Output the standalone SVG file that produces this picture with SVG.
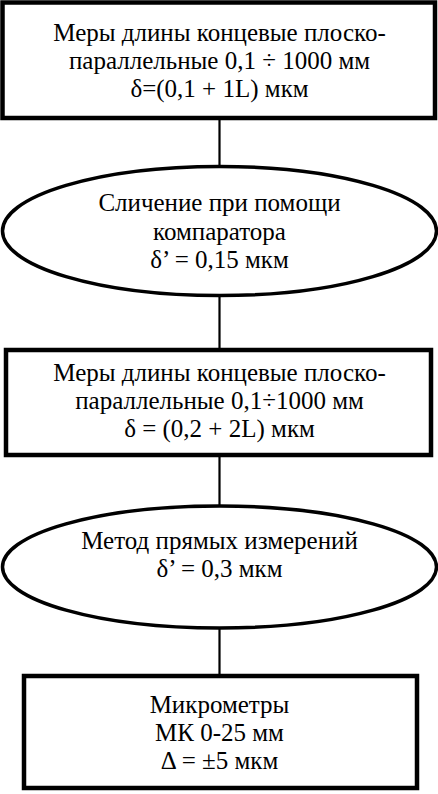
<svg xmlns="http://www.w3.org/2000/svg" width="438" height="794" viewBox="0 0 438 794">
<style>
.box{fill:#fff;stroke:#000;stroke-width:4.5}
.ell{fill:#fff;stroke:#000;stroke-width:3.5}
.con{stroke:#000;stroke-width:2.2;fill:none}
.t{font-family:'Liberation Serif','Times New Roman',serif;font-size:25px;fill:#000;text-anchor:middle}
</style>
<rect width="438" height="794" fill="#fff"/>
<g id="connectors">
<line class="con" x1="219.5" y1="118" x2="219.5" y2="167"/>
<line class="con" x1="219.5" y1="295" x2="219.5" y2="350"/>
<line class="con" x1="219.5" y1="455" x2="219.5" y2="506"/>
<line class="con" x1="219.5" y1="628" x2="219.5" y2="676"/>
</g>
<g id="node1">
<rect class="box" x="2.5" y="2.5" width="432.5" height="115.5"/>
<text class="t" x="219.5" y="41">Меры длины концевые плоско-</text>
<text class="t" x="219.5" y="69">параллельные 0,1 ÷ 1000 мм</text>
<text class="t" x="219.5" y="97">δ=(0,1 + 1L) мкм</text>
</g>
<g id="node2">
<ellipse class="ell" cx="219.5" cy="231" rx="217" ry="64.5"/>
<text class="t" x="219.5" y="211">Сличение при помощи</text>
<text class="t" x="219.5" y="239.5">компаратора</text>
<text class="t" x="219.5" y="267.5">δ’ = 0,15 мкм</text>
</g>
<g id="node3">
<rect class="box" x="6" y="350" width="425" height="105"/>
<text class="t" x="219.5" y="381">Меры длины концевые плоско-</text>
<text class="t" x="219.5" y="409">параллельные 0,1÷1000 мм</text>
<text class="t" x="219.5" y="437">δ = (0,2 + 2L) мкм</text>
</g>
<g id="node4">
<ellipse class="ell" cx="219.5" cy="567" rx="217" ry="61"/>
<text class="t" x="219.5" y="549">Метод прямых измерений</text>
<text class="t" x="219.5" y="577">δ’ = 0,3 мкм</text>
</g>
<g id="node5">
<rect class="box" x="24" y="676" width="393" height="112"/>
<text class="t" x="219.5" y="713">Микрометры</text>
<text class="t" x="219.5" y="741">МК 0-25 мм</text>
<text class="t" x="219.5" y="769">Δ = ±5 мкм</text>
</g>
</svg>
